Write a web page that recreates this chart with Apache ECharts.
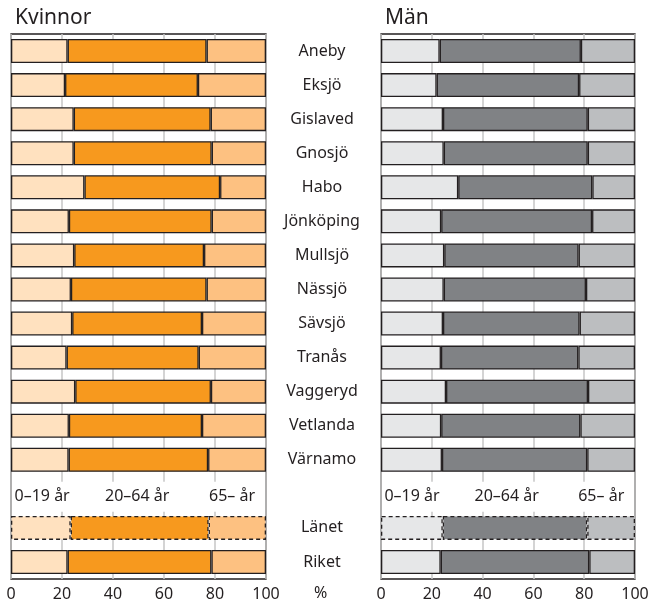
<!DOCTYPE html>
<html>
<head>
<meta charset="utf-8">
<script src="https://cdn.jsdelivr.net/npm/echarts@6/dist/echarts.min.js"></script>
<style>
  html, body { margin: 0; padding: 0; background: #fff; }
  #chart { width: 652px; height: 602px; }
</style>
</head>
<body>
<div id="chart"></div>
<script>
// kommuner + tom rad for etiketterna + län och riket
var categories = ['Aneby', 'Eksjö', 'Gislaved', 'Gnosjö', 'Habo', 'Jönköping', 'Mullsjö',
  'Nässjö', 'Sävsjö', 'Tranås', 'Vaggeryd', 'Vetlanda', 'Värnamo', '', 'Länet', 'Riket'];

// Kvinnor, andel i procent
var kv0_19  = [22.2, 21.2, 24.6, 24.6, 28.8, 22.7, 24.8, 23.5, 24.0, 21.8, 25.2, 22.7, 22.6, null, 23.4, 22.2];
var kv20_64 = [54.5, 52.1, 53.7, 54.1, 53.2, 56.0, 50.9, 53.2, 50.9, 51.8, 53.2, 52.2, 54.7, null, 54.1, 56.4];
var kv65    = [23.3, 26.7, 21.7, 21.3, 18.0, 21.3, 24.3, 23.3, 25.1, 26.4, 21.6, 25.1, 22.7, null, 22.5, 21.4];

// Män, andel i procent
var m0_19  = [23.1, 21.9, 24.4, 24.7, 30.4, 23.7, 24.9, 24.7, 24.4, 23.6, 25.6, 23.7, 24.0, null, 24.3, 23.5];
var m20_64 = [55.6, 56.1, 57.0, 56.7, 52.8, 59.4, 52.9, 56.0, 53.8, 54.1, 55.9, 54.8, 57.2, null, 56.9, 58.5];
var m65    = [21.3, 22.0, 18.6, 18.6, 16.8, 16.9, 22.2, 19.3, 21.8, 22.3, 18.5, 21.5, 18.8, null, 18.8, 18.0];

var groupNames = ['0–19 år', '20–64 år', '65– år'];
var groupLabelX = [12.2, 49.5, 86.7];
var xTicks = [0, 20, 40, 60, 80, 100];

var ink = '#231f20';
var font = 'Noto Sans';

function items(arr) {
  return arr.map(function (v, i) {
    if (v === null) return '-';
    if (categories[i] === 'Länet') {
      return { value: v, itemStyle: { borderType: [4, 3] } };
    }
    return v;
  });
}

function barSeries(data, color, stack, idx) {
  return {
    type: 'bar',
    stack: stack,
    xAxisIndex: idx,
    yAxisIndex: idx,
    barWidth: 24,
    data: items(data),
    itemStyle: { color: color, borderColor: ink, borderWidth: 1.3 },
    emphasis: { disabled: true },
    silent: true,
    z: 3
  };
}

function labelSeries(idx) {
  return {
    type: 'scatter',
    xAxisIndex: idx,
    yAxisIndex: idx,
    symbolSize: 0,
    silent: true,
    z: 5,
    itemStyle: { opacity: 1 },
    data: groupNames.map(function (n, i) {
      return { value: [groupLabelX[i], ''], name: n };
    }),
    label: {
      show: true,
      position: 'inside',
      offset: [0, 3],
      formatter: '{b}',
      fontFamily: font,
      fontSize: 16,
      color: ink,
      opacity: 1,
      textBorderWidth: 0,
      backgroundColor: '#fff',
      padding: [7, 2]
    }
  };
}

function xAxis(idx) {
  return {
    type: 'value',
    gridIndex: idx,
    min: 0,
    max: 100,
    interval: 20,
    axisLine: { show: false },
    axisTick: { show: false },
    axisLabel: { fontFamily: font, fontSize: 16, color: ink, margin: 7,
      customValues: xTicks },
    splitLine: { show: true, lineStyle: { color: '#c6c6c6', width: 1.5 } }
  };
}

var chart = echarts.init(document.getElementById('chart'));
chart.setOption({
  backgroundColor: '#fff',
  animation: false,
  title: [
    { text: 'Kvinnor', left: 10, top: 3, textStyle: { fontFamily: font, fontSize: 21, fontWeight: 'normal', color: ink } },
    { text: 'Män', left: 380, top: 3, textStyle: { fontFamily: font, fontSize: 21, fontWeight: 'normal', color: ink } }
  ],
  grid: [
    { left: 11, right: 386, top: 34, bottom: 23, show: true, borderColor: ink, borderWidth: 1.3, backgroundColor: '#fff' },
    { left: 381, right: 17, top: 34, bottom: 23, show: true, borderColor: ink, borderWidth: 1.3, backgroundColor: '#fff' }
  ],
  xAxis: [xAxis(0), xAxis(1)],
  yAxis: [
    {
      type: 'category', gridIndex: 0, inverse: true, position: 'right',
      data: categories,
      axisLine: { show: false }, axisTick: { show: false },
      axisLabel: { align: 'center', margin: 56, fontFamily: font, fontSize: 16, color: ink }
    },
    {
      type: 'category', gridIndex: 1, inverse: true,
      data: categories,
      axisLine: { show: false }, axisTick: { show: false },
      axisLabel: { show: false }
    }
  ],
  graphic: [
    { type: 'text', left: 314, top: 585, style: { text: '%', fontFamily: font, fontSize: 16, fill: ink } }
  ],
  series: [
    barSeries(kv0_19, '#ffe1bf', 'k', 0),
    barSeries(kv20_64, '#f7991e', 'k', 0),
    barSeries(kv65, '#fdc181', 'k', 0),
    barSeries(m0_19, '#e6e7e8', 'm', 1),
    barSeries(m20_64, '#808285', 'm', 1),
    barSeries(m65, '#bcbec0', 'm', 1),
    labelSeries(0),
    labelSeries(1)
  ]
});
</script>
</body>
</html>
